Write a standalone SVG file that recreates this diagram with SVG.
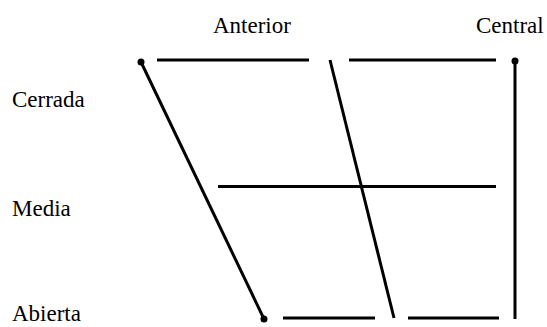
<svg xmlns="http://www.w3.org/2000/svg" width="547" height="327" viewBox="0 0 547 327">
<style>
.l{stroke:#000;stroke-width:3;fill:none}
.d{fill:#000}
</style>
<rect width="547" height="327" fill="#fff"/>
<g id="labels" font-family="Liberation Serif, serif" font-size="23" fill="#000">
<text x="213" y="33">Anterior</text>
<text x="476" y="33">Central</text>
<text x="12" y="107">Cerrada</text>
<text x="12" y="216">Media</text>
<text x="12" y="321">Abierta</text>
</g>
<g id="connectors">
<line class="l" x1="157" y1="60" x2="309" y2="60"/>
<line class="l" x1="349" y1="60" x2="496" y2="60"/>
<line class="l" x1="218" y1="186.5" x2="496" y2="186.5"/>
<line class="l" x1="283" y1="318" x2="375" y2="318"/>
<line class="l" x1="408" y1="318" x2="499" y2="318"/>
<line class="l" x1="141" y1="62" x2="264" y2="319"/>
<line class="l" x1="330" y1="60" x2="394" y2="318"/>
<line class="l" x1="515" y1="61" x2="515" y2="319"/>
</g>
<g id="dots">
<circle class="d" cx="141" cy="62" r="3.5"/>
<circle class="d" cx="264" cy="319" r="3.5"/>
<circle class="d" cx="515" cy="61" r="3.5"/>
</g>
</svg>
